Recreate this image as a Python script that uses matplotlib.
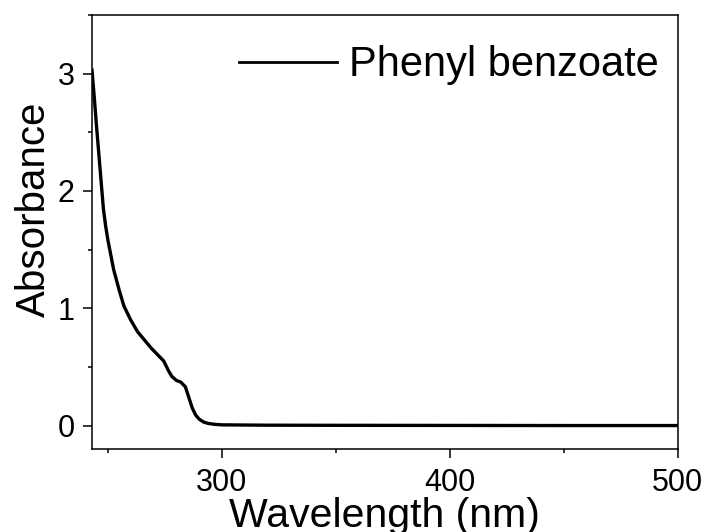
import matplotlib
matplotlib.use("Agg")
import matplotlib.pyplot as plt
from matplotlib.ticker import MultipleLocator

plt.rcParams['font.family'] = ['Liberation Sans', 'DejaVu Sans']

# UV-vis absorption spectrum
wavelength = [243, 244, 245, 246.5, 248, 249, 250, 251, 252.5, 255, 257, 260, 263, 266,
              269, 272, 274.5, 276.5, 278, 280, 282, 284, 285.5, 287, 288.5, 290,
              292, 294, 297, 300, 320, 350, 400, 450, 500]
absorbance = [3.03, 2.8, 2.55, 2.2, 1.85, 1.7, 1.58, 1.48, 1.33, 1.15, 1.02, 0.9, 0.8, 0.73,
              0.66, 0.6, 0.55, 0.47, 0.42, 0.385, 0.37, 0.33, 0.24, 0.15, 0.09, 0.055,
              0.03, 0.018, 0.01, 0.006, 0.003, 0.002, 0.001, 0.0, 0.0]
label = "Phenyl benzoate"

fig = plt.figure(figsize=(7.07, 5.32), dpi=100)
ax = fig.add_axes([0.1301, 0.156, 0.8282, 0.8158])

ax.plot(wavelength, absorbance, color='black', lw=2.4, label=label)

ax.set_xlim(243, 500)
ax.set_ylim(-0.2, 3.5)
ax.xaxis.set_major_locator(MultipleLocator(100))
ax.xaxis.set_minor_locator(MultipleLocator(50))
ax.yaxis.set_major_locator(MultipleLocator(1))
ax.yaxis.set_minor_locator(MultipleLocator(0.5))

ax.tick_params(which='both', direction='out', width=1.1, top=False, right=False,
               labelsize=22)
ax.tick_params(which='major', length=6.5, pad=6)
ax.tick_params(which='minor', length=3.2)
ax.tick_params(axis='x', which='major', pad=7)
for s in ax.spines.values():
    s.set_linewidth(1.1)

ax.set_xlabel('Wavelength (nm)', fontsize=29.5, labelpad=-0.5)
ax.set_ylabel('Absorbance', fontsize=29)
ax.yaxis.set_label_coords(-0.066, 0.553)

leg = ax.legend(loc='upper right', bbox_to_anchor=(0.968, 0.93), frameon=False,
                fontsize=30, handlelength=2.35, handletextpad=0.28,
                borderpad=0, borderaxespad=0)
for h in leg.get_lines():
    h.set_linewidth(2.0)

fig.savefig('out.png', dpi=100)
